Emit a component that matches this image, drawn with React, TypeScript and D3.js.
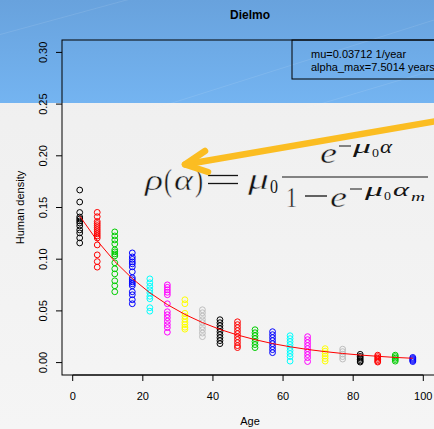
import React from 'react';
import * as d3 from 'd3';

// age classes (years) and the observed densities for each class
const ages = [2, 7, 12, 17, 22, 27, 32, 37, 42, 47, 52, 57, 62, 67, 72, 77, 82, 87, 92, 97];

const densities = [
  [0.1669, 0.1553, 0.1452, 0.1408, 0.1389, 0.137, 0.135, 0.1322, 0.1283, 0.1254, 0.1206, 0.1157],
  [0.1453, 0.1411, 0.1365, 0.1345, 0.1325, 0.1305, 0.1285, 0.1265, 0.1245, 0.1225, 0.1205, 0.1138, 0.1042, 0.0977, 0.0923],
  [0.1264, 0.1225, 0.1186, 0.1148, 0.109, 0.1071, 0.1051, 0.1032, 0.0965, 0.0907, 0.0858, 0.0791, 0.0743, 0.0685],
  [0.1061, 0.1022, 0.0998, 0.0974, 0.0955, 0.0926, 0.0878, 0.082, 0.0801, 0.0781, 0.0762, 0.0743, 0.0685, 0.0656, 0.0608, 0.0569],
  [0.081, 0.0772, 0.0738, 0.0704, 0.0675, 0.0641, 0.0617, 0.0531, 0.0497],
  [0.0752, 0.0728, 0.0704, 0.068, 0.0656, 0.0569, 0.0492, 0.0463, 0.0434, 0.04, 0.0367, 0.0338, 0.0294],
  [0.0608, 0.0569, 0.0477, 0.0449, 0.042, 0.0391, 0.0367, 0.0342, 0.0323],
  [0.0511, 0.0482, 0.0449, 0.0415, 0.0386, 0.0347, 0.0318, 0.0285, 0.0251],
  [0.0415, 0.0386, 0.0357, 0.0328, 0.0299, 0.027, 0.0241, 0.0212, 0.0183],
  [0.0395, 0.0367, 0.0338, 0.0309, 0.028, 0.0251, 0.0222, 0.0193, 0.0164, 0.0145],
  [0.0318, 0.0289, 0.026, 0.0232, 0.0203, 0.0174, 0.0145],
  [0.0299, 0.027, 0.0241, 0.0212, 0.0183, 0.0154, 0.0125, 0.0096],
  [0.026, 0.0232, 0.0203, 0.0174, 0.0145, 0.0116, 0.0087, 0.0058, 0.0014],
  [0.0251, 0.0222, 0.0193, 0.0164, 0.0135, 0.0106, 0.0077, 0.0048, 0.001],
  [0.0135, 0.0111, 0.0087, 0.0063, 0.0039, 0.0014],
  [0.013, 0.0106, 0.0082, 0.0058, 0.0034],
  [0.008, 0.006, 0.0045, 0.003, 0.0015, 0.0005],
  [0.0072, 0.0058, 0.0043, 0.0029, 0.0014, 0.0005],
  [0.0072, 0.0058, 0.0043, 0.0029, 0.0014],
  [0.005, 0.004, 0.003, 0.002, 0.001],
];

// fitted model values at each age class
const fitted = [
  0.1418, 0.1178, 0.0978, 0.0813, 0.0675, 0.0561, 0.0466, 0.0387, 0.0321, 0.0267,
  0.0222, 0.0184, 0.0153, 0.0127, 0.0106, 0.0088, 0.0073, 0.0061, 0.005, 0.0042,
];

const xTicks = [0, 20, 40, 60, 80, 100];
const yTicks = [0, 0.05, 0.1, 0.15, 0.2, 0.25, 0.3];
const legendLines = ['mu=0.03712 1/year', 'alpha_max=7.5014 years'];

// R's default palette(), cycled over the age classes
const palette = ['#000000', '#FF0000', '#00CD00', '#0000FF', '#00FFFF', '#FF00FF', '#FFFF00', '#BEBEBE'];

const W = 434;
const H = 429;
const box = { left: 62, right: 438, top: 40, bottom: 375 };
const sans = "'Liberation Sans', Arial, Helvetica, sans-serif";
const serif = "'Liberation Serif', 'Times New Roman', serif";
const paper = '#efefef';

// one glyph (or short run) of the formula, squeezed to the width it has in the picture
function G(props: { x: number; y: number; w: number; s: number; i?: boolean; c: string }) {
  const big = props.s > 20;
  return (
    <text
      x={props.x}
      y={props.y}
      fontSize={props.s}
      fontFamily={serif}
      fontStyle={props.i ? 'italic' : 'normal'}
      textLength={props.w}
      lengthAdjust="spacingAndGlyphs"
      stroke={big ? paper : 'none'}
      strokeWidth={big ? 0.45 : 0}
    >
      {props.c}
    </text>
  );
}

export default function App() {
  const x = d3.scaleLinear().domain([0, 100]).range([72.7, 423.3]);
  const y = d3.scaleLinear().domain([-0.012, 0.312]).range([box.bottom, box.top]);

  const curve = d3
    .line<number>()
    .x((d, i) => x(ages[i]))
    .y(d => y(d));

  const points = ages.flatMap((a, i) =>
    densities[i].map((v, j) => (
      <circle
        key={i + '-' + j}
        cx={x(a)}
        cy={y(v)}
        r={2.9}
        fill="none"
        stroke={palette[i % palette.length]}
        strokeWidth={1}
      />
    ))
  );

  const ink = '#141414';

  return (
    <svg width={W} height={H} style={{ position: 'fixed', left: 0, top: 0 }}>
      <defs>
        <linearGradient id="blue" x1="0" y1="0" x2="0" y2="1">
          <stop offset="0" stopColor="#68a2dd" />
          <stop offset="1" stopColor="#74b4f1" />
        </linearGradient>
        <linearGradient id="grey" x1="0" y1="0" x2="0" y2="1">
          <stop offset="0" stopColor="#eeeeee" />
          <stop offset="1" stopColor="#f5f5f5" />
        </linearGradient>
      </defs>

      {/* slide background */}
      <rect x={0} y={0} width={W} height={H} fill="url(#grey)" />
      <rect x={0} y={0} width={W} height={103} fill="url(#blue)" />
      <g stroke="#ffffff" strokeOpacity={0.1} strokeWidth={1}>
        <line x1={-20} y1={40} x2={200} y2={-20} />
        <line x1={150} y1={110} x2={434} y2={20} />
        <line x1={300} y1={110} x2={434} y2={70} />
      </g>

      {/* plot frame */}
      <rect
        x={box.left}
        y={box.top}
        width={box.right - box.left}
        height={box.bottom - box.top}
        fill="none"
        stroke="#000"
        strokeWidth={1}
      />

      {/* y axis */}
      <g fontFamily={sans} fontSize={11} fill="#000">
        {yTicks.map(t => (
          <g key={t}>
            <line x1={box.left - 6} x2={box.left} y1={y(t)} y2={y(t)} stroke="#000" />
            <text
              transform={`translate(${box.left - 15},${y(t)}) rotate(-90)`}
              textAnchor="middle"
            >
              {t.toFixed(2)}
            </text>
          </g>
        ))}
        <text transform={`translate(24,${(box.top + box.bottom) / 2}) rotate(-90)`} textAnchor="middle">
          Human density
        </text>
      </g>

      {/* x axis */}
      <g fontFamily={sans} fontSize={11} fill="#000">
        <line x1={x(0)} x2={x(100)} y1={box.bottom} y2={box.bottom} stroke="#000" />
        {xTicks.map(t => (
          <g key={t}>
            <line x1={x(t)} x2={x(t)} y1={box.bottom} y2={box.bottom + 6} stroke="#000" />
            <text x={x(t)} y={400} textAnchor="middle">
              {t}
            </text>
          </g>
        ))}
        <text x={(box.left + box.right) / 2} y={425} textAnchor="middle">
          Age
        </text>
      </g>

      {points}
      <path d={curve(fitted) || ''} fill="none" stroke="#FF0000" strokeWidth={1} />

      {/* legend */}
      <rect x={292} y={box.top} width={160} height={39} fill="none" stroke="#000" />
      <g fontFamily={sans} fontSize={11} fill="#000">
        {legendLines.map((s, i) => (
          <text key={s} x={311} y={58 + i * 13}>
            {s}
          </text>
        ))}
      </g>

      <text x={250} y={19} textAnchor="middle" fontFamily={sans} fontSize={12} fontWeight="bold">
        Dielmo
      </text>

      {/* formula overlay */}
      <g fill={ink}>
        <G x={145} y={190} w={18} s={29} i c="ρ" />
        <G x={164} y={191} w={8} s={31} c="(" />
        <G x={174} y={190} w={19} s={29} i c="α" />
        <G x={195} y={191} w={8} s={31} c=")" />
        <line x1={208} x2={238} y1={175.5} y2={175.5} stroke={ink} strokeWidth={1.3} />
        <line x1={208} x2={238} y1={183.5} y2={183.5} stroke={ink} strokeWidth={1.3} />
        <G x={248} y={189} w={21} s={29} i c="μ" />
        <G x={270} y={193} w={8} s={19} c="0" />
        <line x1={282} x2={428} y1={177} y2={177} stroke={ink} strokeWidth={1.2} />

        <G x={320} y={163} w={17} s={29} i c="e" />
        <line x1={339} x2={351} y1={146} y2={146} stroke={ink} strokeWidth={1} />
        <G x={353} y={153} w={18} s={19} i c="μ" />
        <G x={372} y={157} w={7} s={13} c="0" />
        <G x={380} y={153} w={12} s={19} i c="α" />

        <G x={286} y={207} w={11} s={29} c="1" />
        <line x1={305} x2={327} y1={196} y2={196} stroke={ink} strokeWidth={1.3} />
        <G x={330} y={207} w={17} s={29} i c="e" />
        <line x1={350} x2={362} y1={189} y2={189} stroke={ink} strokeWidth={1} />
        <G x={365} y={196} w={18} s={19} i c="μ" />
        <G x={384} y={200} w={7} s={13} c="0" />
        <G x={393} y={196} w={16} s={19} i c="α" />
        <G x={411} y={201} w={14} s={13} i c="m" />
      </g>

      {/* highlight arrow */}
      <g stroke="#fbbd22" strokeWidth={6.5} strokeLinecap="round" strokeLinejoin="round" fill="none">
        <line x1={440} y1={120.5} x2={185} y2={164.5} />
        <polyline points="205,151 185,164.5 208,172" />
      </g>
    </svg>
  );
}
